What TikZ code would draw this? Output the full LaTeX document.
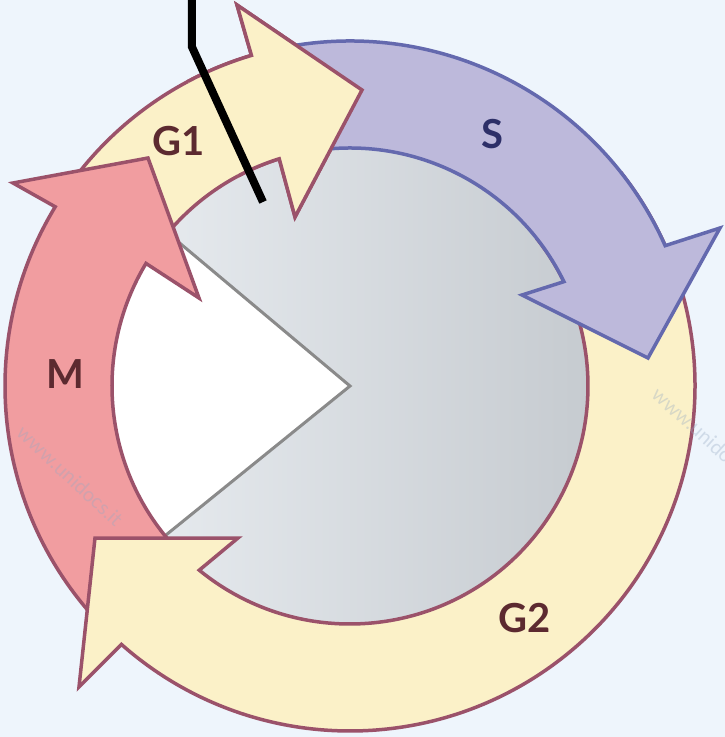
\documentclass[tikz,border=0pt]{standalone}
\usepackage{fontspec}
\setmainfont{Lato}
\definecolor{bg}{RGB}{238,245,252}
\definecolor{ylw}{RGB}{251,241,200}
\definecolor{rim}{RGB}{155,82,106}
\definecolor{redf}{RGB}{241,157,160}
\definecolor{purf}{RGB}{189,185,219}
\definecolor{purd}{RGB}{100,105,174}
\definecolor{grL}{RGB}{233,237,241}
\definecolor{grR}{RGB}{198,203,208}
\definecolor{txtR}{RGB}{92,42,48}
\definecolor{txtB}{RGB}{45,47,104}
\definecolor{wm}{RGB}{150,170,195}
\definecolor{wedgeline}{RGB}{138,138,138}
\tikzset{
  ringY/.style={fill=ylw, draw=rim, line width=3.5pt, line join=miter},
  ringR/.style={fill=redf, draw=rim, line width=3.5pt, line join=miter},
  ringP/.style={fill=purf, draw=purd, line width=3.5pt, line join=miter},
  lbl/.style={font=\bfseries\fontsize{40}{40}\selectfont, text=txtR, inner sep=0pt},
  wmark/.style={font=\fontsize{20}{20}\selectfont, text=wm, text opacity=0.35, inner sep=0pt}
}
\begin{document}
\begin{tikzpicture}[x=1pt,y=1pt]
\useasboundingbox[fill=bg] (-350,-351) rectangle (375,386);
% central disk
\shade[left color=grL, right color=grR] (0,0) circle[radius=238];
\fill[white] (0,0) -- (140:238) arc[start angle=140,end angle=219,radius=238] -- cycle;
\draw[line width=3pt, draw=wedgeline] (140:238) -- (0,0) -- (219:238);
% G1
\path[ringY] (145:345) arc[start angle=145,end angle=106.6,radius=345] -- (-113,381) -- (12,296) -- (-55,169) -- (107.3:238) arc[start angle=107.3,end angle=145,radius=238] -- cycle;
% M
\path[ringR] (222:345) arc[start angle=222,end angle=148.7,radius=345] -- (-337,203) -- (-202,228) -- (-151,88) -- (149:238) arc[start angle=149,end angle=222,radius=238] -- cycle;
% G2
\path[ringY] (38:238) -- (38:345) arc[start angle=38,end angle=-131.5,radius=345] -- (-271,-301) -- (-255,-152) -- (-112,-152) -- (-129.3:238) arc[start angle=-129.3,end angle=38,radius=238] -- cycle;
% S
\path[ringP] (101:345) arc[start angle=101,end angle=24,radius=345] -- (370,158) -- (298,28) -- (172,91) -- (26:238) arc[start angle=26,end angle=101,radius=238] -- cycle;
% G1 head on top of S
\fill[ylw] (118:345) arc[start angle=118,end angle=106.6,radius=345] -- (-113,381) -- (12,296) -- (-55,169) -- (107.3:238) arc[start angle=107.3,end angle=118,radius=238] -- cycle;
\draw[draw=rim, line width=3.5pt, line join=miter] (118:238) arc[start angle=118,end angle=107.3,radius=238] -- (-55,169) -- (12,296) -- (-113,381) -- (106.6:345) arc[start angle=106.6,end angle=118,radius=345];
% labels
\node[lbl] (g1) at (-171,245) {G1};
\node[lbl, text=txtB] (s) at (142,252) {S};
\node[lbl] (m) at (-285,12) {M};
\node[lbl] (g2) at (175,-232) {G2};
% watermark
\node[wmark, rotate=-43] (wm1) at (-280,-90) {www.unidocs.it};
\node[wmark, rotate=-42, anchor=west] (wm2) at (305,-5) {www.unidocs.it};
% pointer line
\coordinate (p0) at (-158,392);
\coordinate (p1) at (-158,339);
\coordinate (p2) at (-87,184);
\draw[line width=8pt, line join=miter] (p0) -- (p1) -- (p2);
\end{tikzpicture}
\end{document}
